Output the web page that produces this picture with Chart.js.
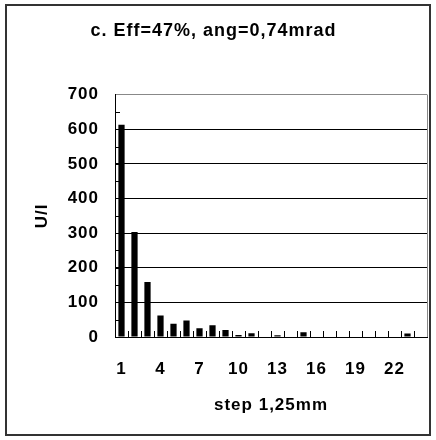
<!DOCTYPE html>
<html>
<head>
<meta charset="utf-8">
<script src="https://cdn.jsdelivr.net/npm/chart.js@4/dist/chart.umd.min.js"></script>
<style>
  html, body { margin: 0; padding: 0; background: #fff; }
  #wrap { width: 436px; height: 440px; }
</style>
</head>
<body>
<div id="wrap"><canvas id="chart" width="436" height="440"></canvas></div>
<script>
// step positions 1..24 (1,25 mm each)
const steps = [1, 2, 3, 4, 5, 6, 7, 8, 9, 10, 11, 12, 13, 14, 15, 16, 17, 18, 19, 20, 21, 22, 23, 24];
// U/I per step
const ui = [613, 303, 159, 62, 38, 48, 25, 34, 20, 6, 11, 0, 5, 0, 14, 0, 0, 0, 0, 0, 0, 0, 10, 0];
const yTicks = [0, 100, 200, 300, 400, 500, 600, 700];

const FONT = "'Liberation Sans', Arial, sans-serif";

// frame, right border and the small inner tick marks
const frame = {
  id: 'frame',
  beforeUpdate(chart) {
    chart.ctx.letterSpacing = '1px';
  },
  beforeDraw(chart) {
    const c = chart.ctx;
    c.letterSpacing = '1px';
    c.save();
    c.fillStyle = '#fff';
    c.fillRect(0, 0, chart.width, chart.height);
    c.restore();
  },
  afterDraw(chart) {
    const c = chart.ctx, a = chart.chartArea;
    const x = chart.scales.x, y = chart.scales.y;
    c.save();
    c.strokeStyle = '#888';
    c.lineWidth = 1;
    c.beginPath();
    c.moveTo(Math.round(a.right) + 0.5, a.top);
    c.lineTo(Math.round(a.right) + 0.5, a.bottom);
    c.stroke();

    c.strokeStyle = '#000';
    c.beginPath();
    // y minor ticks every 50
    for (let v = 50; v < 700; v += 50) {
      const py = Math.round(y.getPixelForValue(v)) + 0.5;
      c.moveTo(a.left, py);
      c.lineTo(a.left + 5, py);
    }
    // x ticks between categories
    for (let i = 1; i < steps.length; i++) {
      const px = Math.round((x.getPixelForValue(i - 1) + x.getPixelForValue(i)) / 2) + 0.5;
      c.moveTo(px, a.bottom);
      c.lineTo(px, a.bottom - 6);
    }
    c.stroke();

    c.strokeStyle = '#333';
    c.lineWidth = 2;
    c.strokeRect(6, 5, 424, 430);
    c.restore();
  }
};

new Chart(document.getElementById('chart').getContext('2d'), {
  type: 'bar',
  data: {
    labels: steps,
    datasets: [{
      data: ui,
      backgroundColor: '#000',
      borderWidth: 0,
      barPercentage: 0.48,
      categoryPercentage: 1
    }]
  },
  options: {
    responsive: false,
    animation: false,
    layout: { padding: { top: 0, right: 9, bottom: 0, left: 0 } },
    plugins: {
      legend: { display: false },
      tooltip: { enabled: false },
      title: {
        display: true,
        text: 'c. Eff=47%, ang=0,74mrad',
        color: '#000',
        font: { family: FONT, size: 18, weight: 'bold' },
        padding: { top: 20, bottom: 53 }
      }
    },
    scales: {
      x: {
        grid: { display: false, drawTicks: false },
        border: { display: true, color: '#000', width: 1 },
        ticks: {
          autoSkip: false,
          maxRotation: 0,
          padding: 22,
          color: '#000',
          font: { family: FONT, size: 17, weight: 'bold' },
          callback: (v, i) => (i % 3 === 0 ? steps[i] : '')
        },
        title: {
          display: true,
          text: 'step 1,25mm',
          color: '#000',
          font: { family: FONT, size: 17, weight: 'bold' },
          padding: { top: 0, bottom: 24 }
        },
        afterFit: (s) => { s.height = 103; s.paddingLeft = 0; s.paddingRight = 0; }
      },
      y: {
        min: 0,
        max: 700,
        afterBuildTicks: (s) => { s.ticks = yTicks.map(v => ({ value: v })); },
        grid: {
          drawTicks: false,
          color: (ctx) => (ctx.tick.value === 700 ? '#888' : '#000'),
          lineWidth: 1
        },
        border: { display: true, color: '#000', width: 1 },
        ticks: {
          padding: 16,
          color: '#000',
          font: { family: FONT, size: 17, weight: 'bold' }
        },
        title: {
          display: true,
          text: 'U/I',
          color: '#000',
          font: { family: FONT, size: 17, weight: 'bold' },
          padding: { top: 32, bottom: 0 }
        },
        afterFit: (s) => { s.width = 115; }
      }
    }
  },
  plugins: [frame]
});
</script>
</body>
</html>
